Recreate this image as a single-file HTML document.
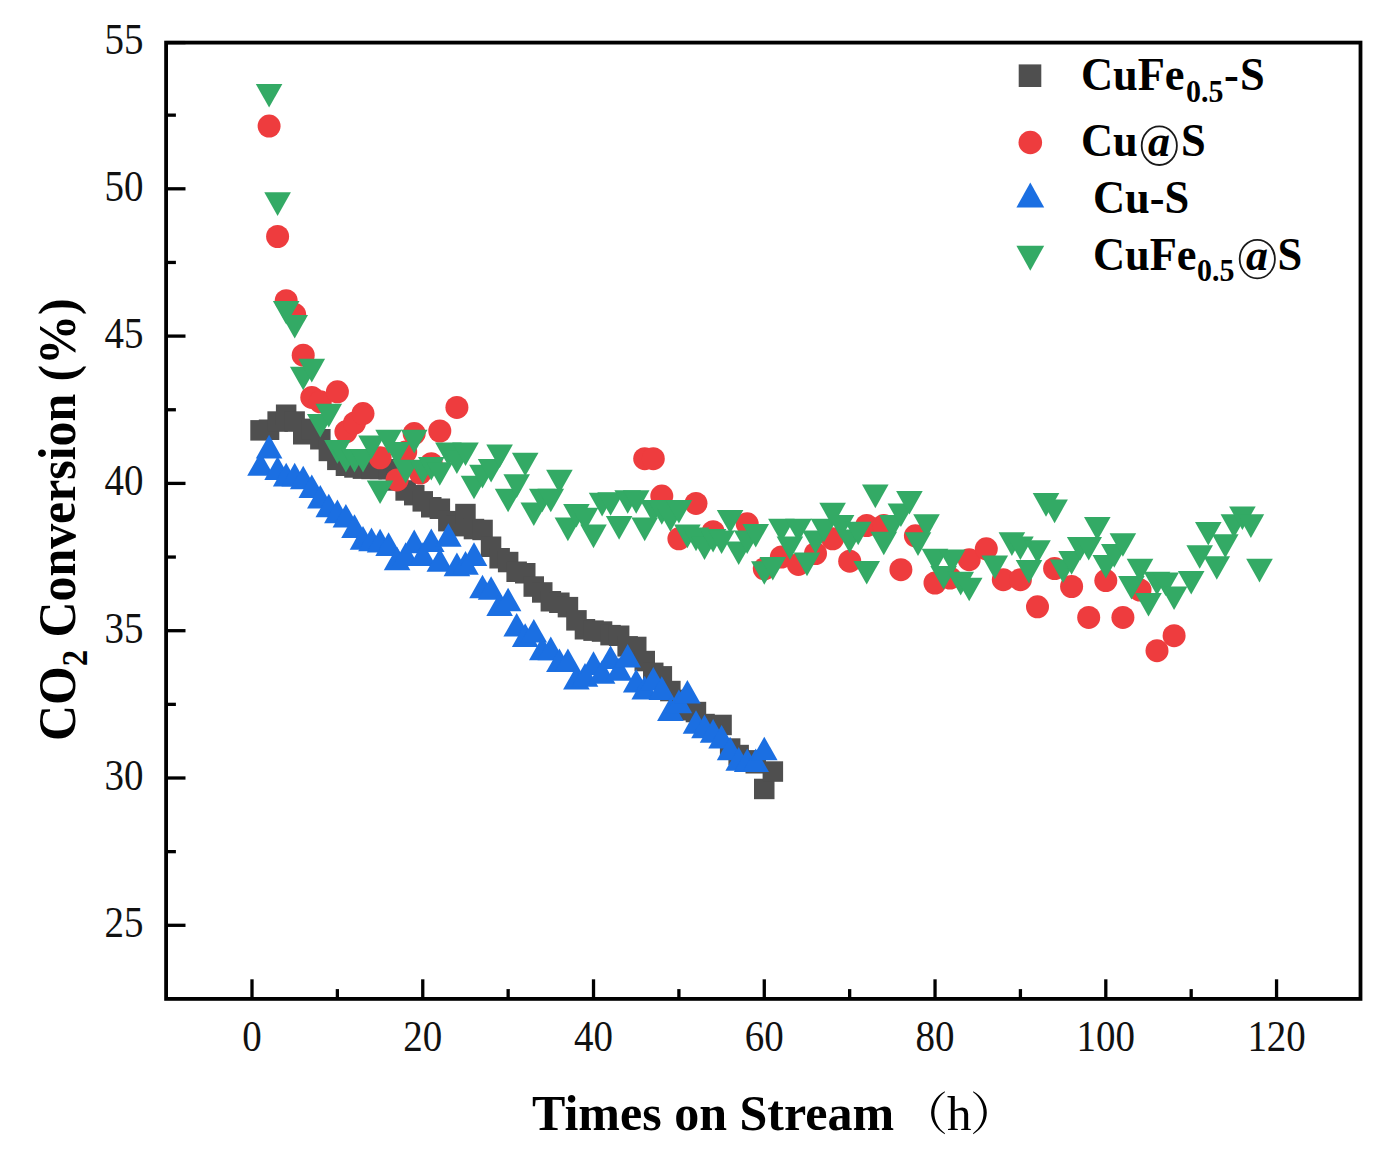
<!DOCTYPE html>
<html><head><meta charset="utf-8"><title>CO2 Conversion</title>
<style>
html,body{margin:0;padding:0;background:#fff;}
body{width:1383px;height:1163px;overflow:hidden;}
svg{display:block;font-family:"Liberation Serif",serif;}
.s{font-family:"Liberation Serif",serif;}
</style></head><body>
<svg width="1383" height="1163" viewBox="0 0 1383 1163">
<rect width="1383" height="1163" fill="#fff"/>
<g fill="#4f4f4f">
<rect x="250.3" y="420.1" width="20.5" height="20.5"/>
<rect x="258.8" y="419.5" width="20.5" height="20.5"/>
<rect x="267.4" y="411.3" width="20.5" height="20.5"/>
<rect x="275.9" y="404.5" width="20.5" height="20.5"/>
<rect x="284.4" y="411.3" width="20.5" height="20.5"/>
<rect x="293.0" y="424.0" width="20.5" height="20.5"/>
<rect x="301.5" y="418.6" width="20.5" height="20.5"/>
<rect x="310.1" y="429.0" width="20.5" height="20.5"/>
<rect x="318.6" y="440.7" width="20.5" height="20.5"/>
<rect x="327.1" y="449.6" width="20.5" height="20.5"/>
<rect x="335.7" y="455.5" width="20.5" height="20.5"/>
<rect x="344.2" y="457.2" width="20.5" height="20.5"/>
<rect x="352.7" y="458.4" width="20.5" height="20.5"/>
<rect x="361.3" y="458.7" width="20.5" height="20.5"/>
<rect x="369.8" y="458.7" width="20.5" height="20.5"/>
<rect x="378.4" y="459.0" width="20.5" height="20.5"/>
<rect x="386.9" y="470.2" width="20.5" height="20.5"/>
<rect x="395.4" y="480.2" width="20.5" height="20.5"/>
<rect x="404.0" y="484.9" width="20.5" height="20.5"/>
<rect x="412.5" y="491.1" width="20.5" height="20.5"/>
<rect x="421.0" y="497.0" width="20.5" height="20.5"/>
<rect x="429.6" y="498.5" width="20.5" height="20.5"/>
<rect x="438.1" y="510.9" width="20.5" height="20.5"/>
<rect x="446.7" y="515.9" width="20.5" height="20.5"/>
<rect x="455.2" y="503.8" width="20.5" height="20.5"/>
<rect x="463.7" y="518.8" width="20.5" height="20.5"/>
<rect x="472.3" y="519.7" width="20.5" height="20.5"/>
<rect x="480.8" y="536.5" width="20.5" height="20.5"/>
<rect x="489.4" y="548.0" width="20.5" height="20.5"/>
<rect x="497.9" y="551.8" width="20.5" height="20.5"/>
<rect x="506.4" y="561.5" width="20.5" height="20.5"/>
<rect x="515.0" y="563.0" width="20.5" height="20.5"/>
<rect x="523.5" y="576.3" width="20.5" height="20.5"/>
<rect x="532.0" y="582.2" width="20.5" height="20.5"/>
<rect x="540.6" y="591.0" width="20.5" height="20.5"/>
<rect x="549.1" y="592.5" width="20.5" height="20.5"/>
<rect x="557.7" y="596.9" width="20.5" height="20.5"/>
<rect x="566.2" y="610.1" width="20.5" height="20.5"/>
<rect x="574.7" y="619.0" width="20.5" height="20.5"/>
<rect x="583.3" y="620.4" width="20.5" height="20.5"/>
<rect x="591.8" y="621.3" width="20.5" height="20.5"/>
<rect x="600.3" y="624.9" width="20.5" height="20.5"/>
<rect x="608.9" y="625.5" width="20.5" height="20.5"/>
<rect x="617.4" y="636.1" width="20.5" height="20.5"/>
<rect x="626.0" y="636.7" width="20.5" height="20.5"/>
<rect x="634.5" y="650.8" width="20.5" height="20.5"/>
<rect x="643.0" y="662.6" width="20.5" height="20.5"/>
<rect x="651.6" y="666.1" width="20.5" height="20.5"/>
<rect x="660.1" y="680.8" width="20.5" height="20.5"/>
<rect x="668.7" y="689.7" width="20.5" height="20.5"/>
<rect x="677.2" y="700.0" width="20.5" height="20.5"/>
<rect x="685.7" y="701.8" width="20.5" height="20.5"/>
<rect x="694.3" y="713.8" width="20.5" height="20.5"/>
<rect x="702.8" y="716.2" width="20.5" height="20.5"/>
<rect x="711.3" y="714.7" width="20.5" height="20.5"/>
<rect x="719.9" y="738.3" width="20.5" height="20.5"/>
<rect x="728.4" y="744.8" width="20.5" height="20.5"/>
<rect x="737.0" y="750.1" width="20.5" height="20.5"/>
<rect x="745.5" y="753.0" width="20.5" height="20.5"/>
<rect x="754.0" y="778.7" width="20.5" height="20.5"/>
<rect x="762.6" y="761.3" width="20.5" height="20.5"/>
</g>
<g fill="#1b6fe2">
<path d="M260.5 452.2L273.8 475.8L247.2 475.8Z"/>
<path d="M269.1 434.8L282.4 458.4L255.8 458.4Z"/>
<path d="M277.6 456.3L290.9 479.9L264.3 479.9Z"/>
<path d="M286.2 462.8L299.5 486.4L272.9 486.4Z"/>
<path d="M294.7 462.8L308.0 486.4L281.4 486.4Z"/>
<path d="M303.2 465.7L316.5 489.3L289.9 489.3Z"/>
<path d="M311.8 474.5L325.1 498.1L298.5 498.1Z"/>
<path d="M320.3 484.9L333.6 508.5L307.0 508.5Z"/>
<path d="M328.8 493.7L342.1 517.3L315.5 517.3Z"/>
<path d="M337.4 499.6L350.7 523.2L324.1 523.2Z"/>
<path d="M345.9 504.0L359.2 527.6L332.6 527.6Z"/>
<path d="M354.5 514.3L367.8 537.9L341.2 537.9Z"/>
<path d="M363.0 526.1L376.3 549.7L349.7 549.7Z"/>
<path d="M371.5 527.6L384.8 551.2L358.2 551.2Z"/>
<path d="M380.1 528.8L393.4 552.4L366.8 552.4Z"/>
<path d="M388.6 532.3L401.9 555.9L375.3 555.9Z"/>
<path d="M397.1 546.7L410.4 570.3L383.8 570.3Z"/>
<path d="M405.7 542.3L419.0 565.9L392.4 565.9Z"/>
<path d="M414.2 529.6L427.5 553.2L400.9 553.2Z"/>
<path d="M422.8 542.3L436.1 565.9L409.5 565.9Z"/>
<path d="M431.3 528.5L444.6 552.1L418.0 552.1Z"/>
<path d="M439.8 548.2L453.1 571.8L426.5 571.8Z"/>
<path d="M448.4 523.2L461.7 546.8L435.1 546.8Z"/>
<path d="M456.9 552.6L470.2 576.2L443.6 576.2Z"/>
<path d="M465.5 551.1L478.8 574.7L452.2 574.7Z"/>
<path d="M474.0 542.3L487.3 565.9L460.7 565.9Z"/>
<path d="M482.5 574.7L495.8 598.3L469.2 598.3Z"/>
<path d="M491.1 576.2L504.4 599.8L477.8 599.8Z"/>
<path d="M499.6 592.4L512.9 616.0L486.3 616.0Z"/>
<path d="M508.1 587.7L521.4 611.3L494.8 611.3Z"/>
<path d="M516.7 613.0L530.0 636.6L503.4 636.6Z"/>
<path d="M525.2 623.3L538.5 646.9L511.9 646.9Z"/>
<path d="M533.8 618.9L547.1 642.5L520.5 642.5Z"/>
<path d="M542.3 636.6L555.6 660.2L529.0 660.2Z"/>
<path d="M550.8 636.6L564.1 660.2L537.5 660.2Z"/>
<path d="M559.4 648.4L572.7 672.0L546.1 672.0Z"/>
<path d="M567.9 648.4L581.2 672.0L554.6 672.0Z"/>
<path d="M576.4 666.0L589.7 689.6L563.1 689.6Z"/>
<path d="M585.0 663.1L598.3 686.7L571.7 686.7Z"/>
<path d="M593.5 651.3L606.8 674.9L580.2 674.9Z"/>
<path d="M602.1 660.1L615.4 683.7L588.8 683.7Z"/>
<path d="M610.6 645.4L623.9 669.0L597.3 669.0Z"/>
<path d="M619.1 657.2L632.4 680.8L605.8 680.8Z"/>
<path d="M627.7 643.9L641.0 667.5L614.4 667.5Z"/>
<path d="M636.2 669.0L649.5 692.6L622.9 692.6Z"/>
<path d="M644.7 675.8L658.0 699.4L631.4 699.4Z"/>
<path d="M653.3 666.9L666.6 690.5L640.0 690.5Z"/>
<path d="M661.8 676.3L675.1 699.9L648.5 699.9Z"/>
<path d="M670.4 697.3L683.7 720.9L657.1 720.9Z"/>
<path d="M678.9 689.6L692.2 713.2L665.6 713.2Z"/>
<path d="M687.4 679.9L700.7 703.5L674.1 703.5Z"/>
<path d="M696.0 710.2L709.3 733.8L682.7 733.8Z"/>
<path d="M704.5 714.6L717.8 738.2L691.2 738.2Z"/>
<path d="M713.1 719.1L726.4 742.7L699.8 742.7Z"/>
<path d="M721.6 725.0L734.9 748.6L708.3 748.6Z"/>
<path d="M730.1 736.7L743.4 760.3L716.8 760.3Z"/>
<path d="M738.7 747.1L752.0 770.7L725.4 770.7Z"/>
<path d="M747.2 748.5L760.5 772.1L733.9 772.1Z"/>
<path d="M755.7 748.5L769.0 772.1L742.4 772.1Z"/>
<path d="M764.3 736.7L777.6 760.3L751.0 760.3Z"/>
</g>
<g fill="#ee3c3e">
<circle cx="269.1" cy="126.1" r="11.5"/>
<circle cx="277.6" cy="236.5" r="11.5"/>
<circle cx="286.2" cy="300.7" r="11.5"/>
<circle cx="294.7" cy="314.6" r="11.5"/>
<circle cx="303.2" cy="355.2" r="11.5"/>
<circle cx="311.8" cy="397.4" r="11.5"/>
<circle cx="320.3" cy="401.8" r="11.5"/>
<circle cx="337.4" cy="391.8" r="11.5"/>
<circle cx="345.9" cy="431.8" r="11.5"/>
<circle cx="354.5" cy="423.0" r="11.5"/>
<circle cx="363.0" cy="413.6" r="11.5"/>
<circle cx="380.1" cy="457.8" r="11.5"/>
<circle cx="397.1" cy="479.9" r="11.5"/>
<circle cx="405.7" cy="451.9" r="11.5"/>
<circle cx="414.2" cy="433.6" r="11.5"/>
<circle cx="420.2" cy="473.1" r="11.5"/>
<circle cx="431.3" cy="463.7" r="11.5"/>
<circle cx="439.8" cy="431.0" r="11.5"/>
<circle cx="456.9" cy="407.4" r="11.5"/>
<circle cx="644.7" cy="458.7" r="11.5"/>
<circle cx="653.3" cy="458.7" r="11.5"/>
<circle cx="661.8" cy="496.1" r="11.5"/>
<circle cx="678.9" cy="538.8" r="11.5"/>
<circle cx="696.0" cy="503.4" r="11.5"/>
<circle cx="713.1" cy="531.7" r="11.5"/>
<circle cx="747.2" cy="523.8" r="11.5"/>
<circle cx="764.3" cy="568.8" r="11.5"/>
<circle cx="781.4" cy="557.0" r="11.5"/>
<circle cx="798.4" cy="564.4" r="11.5"/>
<circle cx="815.5" cy="553.5" r="11.5"/>
<circle cx="832.6" cy="538.8" r="11.5"/>
<circle cx="849.7" cy="561.2" r="11.5"/>
<circle cx="866.7" cy="525.5" r="11.5"/>
<circle cx="883.8" cy="525.5" r="11.5"/>
<circle cx="900.9" cy="569.7" r="11.5"/>
<circle cx="915.4" cy="535.8" r="11.5"/>
<circle cx="935.0" cy="583.0" r="11.5"/>
<circle cx="950.0" cy="578.0" r="11.5"/>
<circle cx="969.2" cy="559.7" r="11.5"/>
<circle cx="986.3" cy="548.8" r="11.5"/>
<circle cx="1003.3" cy="579.7" r="11.5"/>
<circle cx="1020.4" cy="579.7" r="11.5"/>
<circle cx="1037.5" cy="606.8" r="11.5"/>
<circle cx="1054.6" cy="568.5" r="11.5"/>
<circle cx="1071.6" cy="586.5" r="11.5"/>
<circle cx="1088.7" cy="617.4" r="11.5"/>
<circle cx="1105.8" cy="580.6" r="11.5"/>
<circle cx="1122.9" cy="617.4" r="11.5"/>
<circle cx="1140.0" cy="590.0" r="11.5"/>
<circle cx="1157.0" cy="650.7" r="11.5"/>
<circle cx="1174.1" cy="635.7" r="11.5"/>
</g>
<g fill="#33aa65">
<path d="M255.8 83.9L282.4 83.9L269.1 107.5Z"/>
<path d="M264.3 192.3L290.9 192.3L277.6 215.9Z"/>
<path d="M272.9 301.0L299.5 301.0L286.2 324.6Z"/>
<path d="M281.4 314.9L308.0 314.9L294.7 338.5Z"/>
<path d="M289.9 366.7L316.5 366.7L303.2 390.3Z"/>
<path d="M298.5 358.8L325.1 358.8L311.8 382.4Z"/>
<path d="M307.0 413.9L333.6 413.9L320.3 437.5Z"/>
<path d="M315.5 403.8L342.1 403.8L328.8 427.4Z"/>
<path d="M324.1 440.1L350.7 440.1L337.4 463.7Z"/>
<path d="M332.6 448.9L359.2 448.9L345.9 472.5Z"/>
<path d="M341.2 448.9L367.8 448.9L354.5 472.5Z"/>
<path d="M349.7 448.9L376.3 448.9L363.0 472.5Z"/>
<path d="M358.2 435.4L384.8 435.4L371.5 459.0Z"/>
<path d="M366.8 480.4L393.4 480.4L380.1 504.0Z"/>
<path d="M375.3 429.8L401.9 429.8L388.6 453.4Z"/>
<path d="M383.8 442.1L410.4 442.1L397.1 465.7Z"/>
<path d="M392.4 459.8L419.0 459.8L405.7 483.4Z"/>
<path d="M400.9 429.8L427.5 429.8L414.2 453.4Z"/>
<path d="M409.5 460.1L436.1 460.1L422.8 483.7Z"/>
<path d="M418.0 456.9L444.6 456.9L431.3 480.5Z"/>
<path d="M426.5 462.2L453.1 462.2L439.8 485.8Z"/>
<path d="M435.1 442.4L461.7 442.4L448.4 466.0Z"/>
<path d="M443.6 450.4L470.2 450.4L456.9 474.0Z"/>
<path d="M452.2 442.4L478.8 442.4L465.5 466.0Z"/>
<path d="M460.7 475.7L487.3 475.7L474.0 499.3Z"/>
<path d="M469.2 464.8L495.8 464.8L482.5 488.4Z"/>
<path d="M477.8 458.9L504.4 458.9L491.1 482.5Z"/>
<path d="M486.3 444.5L512.9 444.5L499.6 468.1Z"/>
<path d="M494.8 488.7L521.4 488.7L508.1 512.3Z"/>
<path d="M503.4 474.3L530.0 474.3L516.7 497.9Z"/>
<path d="M511.9 452.7L538.5 452.7L525.2 476.3Z"/>
<path d="M520.5 502.5L547.1 502.5L533.8 526.1Z"/>
<path d="M529.0 488.7L555.6 488.7L542.3 512.3Z"/>
<path d="M537.5 488.7L564.1 488.7L550.8 512.3Z"/>
<path d="M546.1 469.8L572.7 469.8L559.4 493.4Z"/>
<path d="M554.6 517.6L581.2 517.6L567.9 541.2Z"/>
<path d="M563.1 504.0L589.7 504.0L576.4 527.6Z"/>
<path d="M571.7 507.8L598.3 507.8L585.0 531.4Z"/>
<path d="M580.2 524.6L606.8 524.6L593.5 548.2Z"/>
<path d="M588.8 492.8L615.4 492.8L602.1 516.4Z"/>
<path d="M597.3 492.2L623.9 492.2L610.6 515.8Z"/>
<path d="M605.8 516.1L632.4 516.1L619.1 539.7Z"/>
<path d="M614.4 490.2L641.0 490.2L627.7 513.8Z"/>
<path d="M622.9 490.2L649.5 490.2L636.2 513.8Z"/>
<path d="M631.4 517.6L658.0 517.6L644.7 541.2Z"/>
<path d="M640.0 499.9L666.6 499.9L653.3 523.5Z"/>
<path d="M648.5 501.1L675.1 501.1L661.8 524.7Z"/>
<path d="M657.1 508.1L683.7 508.1L670.4 531.7Z"/>
<path d="M665.6 499.9L692.2 499.9L678.9 523.5Z"/>
<path d="M674.1 524.6L700.7 524.6L687.4 548.2Z"/>
<path d="M682.7 527.6L709.3 527.6L696.0 551.2Z"/>
<path d="M691.2 536.4L717.8 536.4L704.5 560.0Z"/>
<path d="M699.8 529.0L726.4 529.0L713.1 552.6Z"/>
<path d="M708.3 530.5L734.9 530.5L721.6 554.1Z"/>
<path d="M716.8 509.9L743.4 509.9L730.1 533.5Z"/>
<path d="M725.4 541.4L752.0 541.4L738.7 565.0Z"/>
<path d="M733.9 530.5L760.5 530.5L747.2 554.1Z"/>
<path d="M742.4 524.0L769.0 524.0L755.7 547.6Z"/>
<path d="M751.0 561.2L777.6 561.2L764.3 584.8Z"/>
<path d="M759.5 557.0L786.1 557.0L772.8 580.6Z"/>
<path d="M768.1 518.7L794.7 518.7L781.4 542.3Z"/>
<path d="M776.6 536.4L803.2 536.4L789.9 560.0Z"/>
<path d="M785.1 518.7L811.7 518.7L798.4 542.3Z"/>
<path d="M793.7 552.6L820.3 552.6L807.0 576.2Z"/>
<path d="M802.2 530.5L828.8 530.5L815.5 554.1Z"/>
<path d="M810.7 518.7L837.3 518.7L824.0 542.3Z"/>
<path d="M819.3 502.8L845.9 502.8L832.6 526.4Z"/>
<path d="M827.8 514.9L854.4 514.9L841.1 538.5Z"/>
<path d="M836.4 529.6L863.0 529.6L849.7 553.2Z"/>
<path d="M844.9 521.7L871.5 521.7L858.2 545.3Z"/>
<path d="M853.4 560.9L880.0 560.9L866.7 584.5Z"/>
<path d="M862.0 484.6L888.6 484.6L875.3 508.2Z"/>
<path d="M870.5 531.7L897.1 531.7L883.8 555.3Z"/>
<path d="M879.1 514.9L905.6 514.9L892.4 538.5Z"/>
<path d="M887.6 503.4L914.2 503.4L900.9 527.0Z"/>
<path d="M896.1 491.0L922.7 491.0L909.4 514.6Z"/>
<path d="M904.7 532.3L931.3 532.3L918.0 555.9Z"/>
<path d="M913.2 514.3L939.8 514.3L926.5 537.9Z"/>
<path d="M921.7 548.8L948.3 548.8L935.0 572.4Z"/>
<path d="M930.3 565.9L956.9 565.9L943.6 589.5Z"/>
<path d="M938.8 549.4L965.4 549.4L952.1 573.0Z"/>
<path d="M947.4 571.8L974.0 571.8L960.7 595.4Z"/>
<path d="M955.9 577.7L982.5 577.7L969.2 601.3Z"/>
<path d="M981.5 555.6L1008.1 555.6L994.8 579.2Z"/>
<path d="M998.6 532.3L1025.2 532.3L1011.9 555.9Z"/>
<path d="M1007.1 536.4L1033.7 536.4L1020.4 560.0Z"/>
<path d="M1015.7 560.0L1042.3 560.0L1029.0 583.6Z"/>
<path d="M1024.2 540.2L1050.8 540.2L1037.5 563.8Z"/>
<path d="M1032.7 493.1L1059.3 493.1L1046.0 516.7Z"/>
<path d="M1041.3 499.6L1067.9 499.6L1054.6 523.2Z"/>
<path d="M1049.8 559.4L1076.4 559.4L1063.1 583.0Z"/>
<path d="M1058.3 551.1L1084.9 551.1L1071.6 574.7Z"/>
<path d="M1066.9 537.0L1093.5 537.0L1080.2 560.6Z"/>
<path d="M1075.4 537.0L1102.0 537.0L1088.7 560.6Z"/>
<path d="M1084.0 517.0L1110.6 517.0L1097.3 540.6Z"/>
<path d="M1092.5 555.0L1119.1 555.0L1105.8 578.6Z"/>
<path d="M1101.0 544.1L1127.6 544.1L1114.3 567.7Z"/>
<path d="M1109.6 533.2L1136.2 533.2L1122.9 556.8Z"/>
<path d="M1118.1 575.9L1144.7 575.9L1131.4 599.5Z"/>
<path d="M1126.7 558.8L1153.3 558.8L1140.0 582.4Z"/>
<path d="M1135.2 593.0L1161.8 593.0L1148.5 616.6Z"/>
<path d="M1143.7 571.8L1170.3 571.8L1157.0 595.4Z"/>
<path d="M1152.3 572.4L1178.9 572.4L1165.6 596.0Z"/>
<path d="M1160.8 586.5L1187.4 586.5L1174.1 610.1Z"/>
<path d="M1177.9 570.9L1204.5 570.9L1191.2 594.5Z"/>
<path d="M1186.4 545.2L1213.0 545.2L1199.7 568.8Z"/>
<path d="M1195.0 522.0L1221.6 522.0L1208.3 545.6Z"/>
<path d="M1203.5 556.2L1230.1 556.2L1216.8 579.8Z"/>
<path d="M1212.0 534.3L1238.6 534.3L1225.3 557.9Z"/>
<path d="M1220.6 514.3L1247.2 514.3L1233.9 537.9Z"/>
<path d="M1229.1 506.4L1255.7 506.4L1242.4 530.0Z"/>
<path d="M1237.6 514.3L1264.2 514.3L1250.9 537.9Z"/>
<path d="M1246.2 558.8L1272.8 558.8L1259.5 582.4Z"/>
</g>
<rect x="166.1" y="42.6" width="1194.4" height="956.3" fill="none" stroke="#000" stroke-width="3.8"/>
<line x1="166.1" y1="925.30" x2="185.50" y2="925.30" stroke="#000" stroke-width="3.3"/>
<line x1="166.1" y1="778.00" x2="185.50" y2="778.00" stroke="#000" stroke-width="3.3"/>
<line x1="166.1" y1="630.70" x2="185.50" y2="630.70" stroke="#000" stroke-width="3.3"/>
<line x1="166.1" y1="483.40" x2="185.50" y2="483.40" stroke="#000" stroke-width="3.3"/>
<line x1="166.1" y1="336.10" x2="185.50" y2="336.10" stroke="#000" stroke-width="3.3"/>
<line x1="166.1" y1="188.80" x2="185.50" y2="188.80" stroke="#000" stroke-width="3.3"/>
<line x1="166.1" y1="42.60" x2="185.50" y2="42.60" stroke="#000" stroke-width="3.3"/>
<line x1="166.1" y1="851.65" x2="175.90" y2="851.65" stroke="#000" stroke-width="3.3"/>
<line x1="166.1" y1="704.35" x2="175.90" y2="704.35" stroke="#000" stroke-width="3.3"/>
<line x1="166.1" y1="557.05" x2="175.90" y2="557.05" stroke="#000" stroke-width="3.3"/>
<line x1="166.1" y1="409.75" x2="175.90" y2="409.75" stroke="#000" stroke-width="3.3"/>
<line x1="166.1" y1="262.45" x2="175.90" y2="262.45" stroke="#000" stroke-width="3.3"/>
<line x1="166.1" y1="115.15" x2="175.90" y2="115.15" stroke="#000" stroke-width="3.3"/>
<line x1="252.00" y1="998.9" x2="252.00" y2="979.30" stroke="#000" stroke-width="3.3"/>
<line x1="422.76" y1="998.9" x2="422.76" y2="979.30" stroke="#000" stroke-width="3.3"/>
<line x1="593.52" y1="998.9" x2="593.52" y2="979.30" stroke="#000" stroke-width="3.3"/>
<line x1="764.28" y1="998.9" x2="764.28" y2="979.30" stroke="#000" stroke-width="3.3"/>
<line x1="935.04" y1="998.9" x2="935.04" y2="979.30" stroke="#000" stroke-width="3.3"/>
<line x1="1105.80" y1="998.9" x2="1105.80" y2="979.30" stroke="#000" stroke-width="3.3"/>
<line x1="1276.56" y1="998.9" x2="1276.56" y2="979.30" stroke="#000" stroke-width="3.3"/>
<line x1="337.38" y1="998.9" x2="337.38" y2="989.10" stroke="#000" stroke-width="3.3"/>
<line x1="508.14" y1="998.9" x2="508.14" y2="989.10" stroke="#000" stroke-width="3.3"/>
<line x1="678.90" y1="998.9" x2="678.90" y2="989.10" stroke="#000" stroke-width="3.3"/>
<line x1="849.66" y1="998.9" x2="849.66" y2="989.10" stroke="#000" stroke-width="3.3"/>
<line x1="1020.42" y1="998.9" x2="1020.42" y2="989.10" stroke="#000" stroke-width="3.3"/>
<line x1="1191.18" y1="998.9" x2="1191.18" y2="989.10" stroke="#000" stroke-width="3.3"/>
<g class="s" font-size="43.3" fill="#111">
<text transform="translate(143.5,937.3) scale(0.9,1)" text-anchor="end">25</text>
<text transform="translate(143.5,790.0) scale(0.9,1)" text-anchor="end">30</text>
<text transform="translate(143.5,642.7) scale(0.9,1)" text-anchor="end">35</text>
<text transform="translate(143.5,495.4) scale(0.9,1)" text-anchor="end">40</text>
<text transform="translate(143.5,348.1) scale(0.9,1)" text-anchor="end">45</text>
<text transform="translate(143.5,200.8) scale(0.9,1)" text-anchor="end">50</text>
<text transform="translate(143.5,53.5) scale(0.9,1)" text-anchor="end">55</text>
<text transform="translate(252.0,1050.6) scale(0.9,1)" text-anchor="middle">0</text>
<text transform="translate(422.8,1050.6) scale(0.9,1)" text-anchor="middle">20</text>
<text transform="translate(593.5,1050.6) scale(0.9,1)" text-anchor="middle">40</text>
<text transform="translate(764.3,1050.6) scale(0.9,1)" text-anchor="middle">60</text>
<text transform="translate(935.0,1050.6) scale(0.9,1)" text-anchor="middle">80</text>
<text transform="translate(1105.8,1050.6) scale(0.9,1)" text-anchor="middle">100</text>
<text transform="translate(1276.6,1050.6) scale(0.9,1)" text-anchor="middle">120</text>
</g>
<g class="s" font-weight="bold" fill="#000">
<text transform="translate(74.5,741) rotate(-90) scale(0.94,1)" font-size="53">CO<tspan font-size="35" dy="12">2</tspan><tspan dy="-12"> Conversion (%)</tspan></text>
<text x="532" y="1130" font-size="50">Times on Stream</text>
</g>
<g fill="#000">
<path d="M944.8 1091.3 C926.6 1101.5 926.6 1124 944.8 1134.2 L944.9 1133.2 C930.9 1123 930.9 1102.5 944.9 1092.3 Z"/>
<path d="M973.2 1091.3 C991.4 1101.5 991.4 1124 973.2 1134.2 L973.1 1133.2 C987.1 1123 987.1 1102.5 973.1 1092.3 Z"/>
</g>
<text class="s" x="947" y="1130.3" font-size="49" fill="#000">h</text>
<g>
<rect x="1018.7" y="64.4" width="22.6" height="22.6" fill="#4f4f4f"/>
<circle cx="1030.3" cy="142.5" r="11.8" fill="#ee3c3e"/>
<path d="M1030.3 182.4L1044.2 207.5L1016.4 207.5Z" fill="#1b6fe2"/>
<path d="M1016.4 245.7L1044.2 245.7L1030.3 270.7Z" fill="#33aa65"/>
</g>
<g class="s" font-weight="bold" fill="#000">
<g transform="translate(0,90) scale(0.965,1)" font-size="46">
<text x="1120.2">CuFe</text><text x="1229.0" y="11.5" font-size="31">0.5</text><text x="1268.4" >-</text><text x="1285.0">S</text>
</g>
<g transform="translate(0,156.4) scale(0.965,1)" font-size="46">
<text x="1120.2">Cu</text><text x="1223.8">S</text>
</g>
<g transform="translate(0,213.3) scale(0.965,1)" font-size="46">
<text x="1132.6">Cu-S</text>
</g>
<g transform="translate(0,269.8) scale(0.965,1)" font-size="46">
<text x="1132.6">CuFe</text><text x="1240.4" y="11.5" font-size="31">0.5</text><text x="1323.8">S</text>
</g>
</g>
<g fill="none" stroke="#1a1a1a" stroke-width="1.8">
<ellipse cx="1159.3" cy="145.7" rx="17.6" ry="19.3"/>
<ellipse cx="1257.3" cy="259.1" rx="17.6" ry="19.3"/>
</g>
<g class="s" font-weight="bold" font-style="italic" font-size="44" fill="#000">
<text x="1148" y="156.2">a</text>
<text x="1246" y="269.6">a</text>
</g>
</svg>
</body></html>
